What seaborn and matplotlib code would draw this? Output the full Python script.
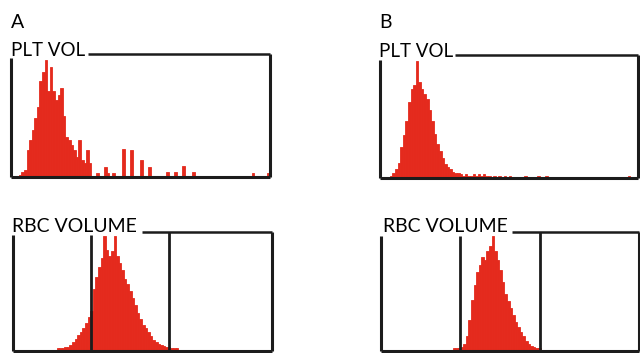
import numpy as np
import pandas as pd
import matplotlib
matplotlib.use("Agg")
import matplotlib.pyplot as plt
import seaborn as sns

# histogram channels (0-99) and relative heights
plt_a_ch = [3, 4, 5, 6, 7, 8, 9, 10, 11, 12, 13, 14, 15, 16, 17, 18, 19, 20, 21, 22, 23, 24, 25,
            26, 27, 28, 29, 30, 33, 36, 37, 39, 43, 46, 50, 53, 60, 63, 66, 70, 93, 99]
plt_a_h = [0.02, 0.04, 0.06, 0.22, 0.30, 0.38, 0.48, 0.57, 0.78, 0.85, 0.95, 0.70, 0.89, 0.70,
           0.62, 0.66, 0.72, 0.49, 0.32, 0.30, 0.26, 0.22, 0.16, 0.30, 0.14, 0.11, 0.22, 0.11,
           0.03, 0.08, 0.03, 0.03, 0.23, 0.22, 0.14, 0.08, 0.04, 0.04, 0.09, 0.04, 0.03, 0.03]

plt_b_ch = [4, 5, 6, 7, 8, 9, 10, 11, 12, 13, 14, 15, 16, 17, 18, 19, 20, 21, 22, 23, 24, 25, 26,
            27, 28, 29, 30, 31, 32, 33, 34, 35, 36, 37, 38, 39, 40, 41, 42, 44, 46, 48, 50, 56,
            61, 64, 96]
plt_b_h = [0.02, 0.04, 0.07, 0.12, 0.25, 0.35, 0.46, 0.62, 0.72, 0.76, 0.95, 0.78, 0.72, 0.68,
           0.64, 0.55, 0.46, 0.36, 0.28, 0.22, 0.16, 0.11, 0.09, 0.07, 0.05, 0.04, 0.04, 0.03,
           0.02, 0.03, 0.02, 0.02, 0.03, 0.02, 0.03, 0.02, 0.03, 0.02, 0.02, 0.02, 0.02, 0.02,
           0.02, 0.02, 0.02, 0.02, 0.02]

rbc_a_ch = list(range(15, 68))
rbc_a_h = [0.01, 0.01, 0.02, 0.02, 0.02, 0.03, 0.03, 0.05, 0.07, 0.10, 0.13, 0.16, 0.19, 0.23,
           0.28, 0.33, 0.52, 0.62, 0.70, 0.78, 0.96, 0.85, 0.80, 0.84, 0.96, 0.80, 0.74, 0.68,
           0.60, 0.56, 0.50, 0.44, 0.38, 0.32, 0.27, 0.22, 0.19, 0.16, 0.12, 0.09, 0.07, 0.06,
           0.05, 0.04, 0.03, 0.03, 0.02, 0.02, 0.02, 0.01, 0.01, 0.01, 0.01]

rbc_b_ch = list(range(24, 67))
rbc_b_h = [0.01, 0.01, 0.01, 0.01, 0.02, 0.02, 0.02, 0.03, 0.06, 0.12, 0.26, 0.43, 0.55, 0.66,
           0.72, 0.79, 0.76, 0.84, 0.88, 0.96, 0.84, 0.76, 0.68, 0.58, 0.48, 0.42, 0.36, 0.30,
           0.24, 0.20, 0.16, 0.12, 0.08, 0.06, 0.04, 0.03, 0.02, 0.02, 0.01, 0.01, 0.01, 0.01,
           0.01]

W, H = 640, 353
red = "#e42a1d"
ink = "#1c1c1c"

sns.set_style("white")
plt.rcParams["font.family"] = ["Lato", "DejaVu Sans"]

fig = plt.figure(figsize=(6.4, 3.53), dpi=100)


def px_axes(x0, y0, x1, y1):
    # pixel box (top-left origin) -> figure axes
    return fig.add_axes([x0 / W, 1 - y1 / H, (x1 - x0) / W, (y1 - y0) / H])


def panel(ax, ch, h, top_start, left_top, gates=()):
    df = pd.DataFrame({"ch": ch, "h": h})
    sns.histplot(data=df, x="ch", weights="h", discrete=True, color=red, alpha=1,
                 edgecolor=red, linewidth=0.6, ax=ax)
    ax.set_xlim(-0.5, 99.5)
    ax.set_ylim(0, 1)
    ax.set_axis_off()
    kw = dict(transform=ax.transAxes, clip_on=False, color=ink, solid_capstyle="butt")
    ax.plot([0, 0], [0, left_top], lw=2.2, **kw)
    ax.plot([0, 1], [0, 0], lw=2.2, **kw)
    ax.plot([1, 1], [0, 1], lw=2.2, **kw)
    ax.plot([top_start, 1], [1, 1], lw=1.8, **kw)
    for gx, gtop in gates:
        ax.plot([gx, gx], [0, gtop], lw=2.0, **kw)


ax1 = px_axes(11, 53.5, 270, 177)
panel(ax1, plt_a_ch, plt_a_h, 0.297, 0.96)
ax2 = px_axes(379.5, 55, 638, 178)
panel(ax2, plt_b_ch, plt_b_h, 0.292, 0.96)
ax3 = px_axes(12.5, 231.7, 271.5, 350.7)
panel(ax3, rbc_a_ch, rbc_a_h, 0.5, 0.97, gates=[(0.302, 0.97), (0.605, 1.0)])
ax4 = px_axes(380.7, 231.7, 638.5, 350.7)
panel(ax4, rbc_b_ch, rbc_b_h, 0.51, 0.96, gates=[(0.308, 0.96), (0.616, 1.0)])

fs = 14
fig.text(11 / W, 1 - 28 / H, "A", fontsize=fs, va="baseline", color="black")
fig.text(11 / W, 1 - 56 / H, "PLT VOL", fontsize=13.5, va="baseline", color="black")
fig.text(379 / W, 1 - 28 / H, "B", fontsize=fs, va="baseline", color="black")
fig.text(379 / W, 1 - 57 / H, "PLT VOL", fontsize=13.5, va="baseline", color="black")
fig.text(12 / W, 1 - 232 / H, "RBC VOLUME", fontsize=fs, va="baseline", color="black")
fig.text(383 / W, 1 - 232 / H, "RBC VOLUME", fontsize=fs, va="baseline", color="black")

fig.savefig("out.png", dpi=100)
